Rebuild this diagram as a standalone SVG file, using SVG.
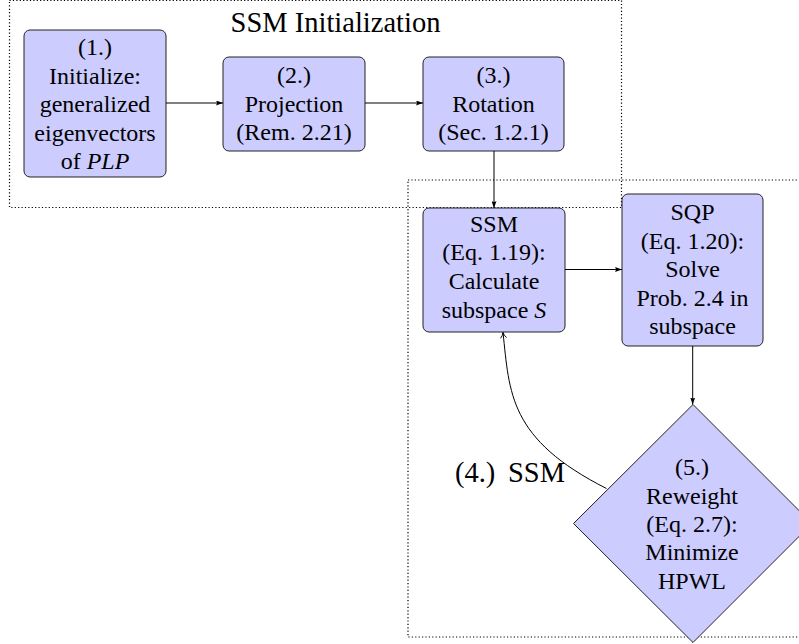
<svg xmlns="http://www.w3.org/2000/svg" width="799" height="644" viewBox="0 0 799 644">
<style>
text{font-family:"Liberation Serif",serif}
.frame{fill:none;stroke:#000;stroke-width:1.2;stroke-dasharray:1.2 2.2}
.node{fill:#ccccff;stroke:#222;stroke-width:1}
.edge{fill:none;stroke:#000;stroke-width:1}
</style>
<defs>
<marker id="ah" viewBox="0 0 7 5" refX="7" refY="2.5" markerWidth="7" markerHeight="5" markerUnits="userSpaceOnUse" orient="auto">
<path d="M0,0 L7,2.5 L0,5 L1.2,2.5 Z" fill="#000"/>
</marker>
<marker id="to" viewBox="0 0 8 8" refX="7" refY="4" markerWidth="8" markerHeight="8" markerUnits="userSpaceOnUse" orient="auto">
<path d="M1.5,1 Q4,3.3 7,4 Q4,4.7 1.5,7" fill="none" stroke="#000" stroke-width="0.9"/>
</marker>
</defs>
<g id="frames" font-family="Liberation Serif" font-size="28.5" fill="#000">
<rect class="frame" x="9.5" y="0.5" width="612" height="207"/>
<rect class="frame" x="408" y="180" width="420" height="457"/>
<text x="335.5" y="32" text-anchor="middle">SSM Initialization</text>
<text x="455" y="482">(4.)</text>
<text x="565" y="482" text-anchor="end">SSM</text>
</g>
<g font-family="Liberation Serif" font-size="24" text-anchor="middle" fill="#000">
<g id="n1">
<rect class="node" x="24" y="30" width="142" height="147" rx="6"/>
<text x="95" y="55">(1.)</text>
<text x="95" y="83.5">Initialize:</text>
<text x="95" y="112">generalized</text>
<text x="95" y="140.5">eigenvectors</text>
<text x="95" y="169">of <tspan font-style="italic">PLP</tspan></text>
</g>
<g id="n2">
<rect class="node" x="223" y="57" width="142" height="94" rx="6"/>
<text x="294" y="83">(2.)</text>
<text x="294" y="111.5">Projection</text>
<text x="294" y="140">(Rem. 2.21)</text>
</g>
<g id="n3">
<rect class="node" x="423" y="57" width="141" height="94" rx="6"/>
<text x="493.5" y="83">(3.)</text>
<text x="493.5" y="111.5">Rotation</text>
<text x="493.5" y="140">(Sec. 1.2.1)</text>
</g>
<g id="ssm">
<rect class="node" x="423" y="208" width="142" height="124" rx="6"/>
<text x="494" y="231.5">SSM</text>
<text x="494" y="260">(Eq. 1.19):</text>
<text x="494" y="289">Calculate</text>
<text x="494" y="317.5">subspace <tspan font-style="italic">S</tspan></text>
</g>
<g id="sqp">
<rect class="node" x="622" y="194" width="141" height="152" rx="6"/>
<text x="692.5" y="220">SQP</text>
<text x="692.5" y="248.5">(Eq. 1.20):</text>
<text x="692.5" y="277">Solve</text>
<text x="692.5" y="305.5">Prob. 2.4 in</text>
<text x="692.5" y="334">subspace</text>
</g>
<g id="reweight">
<polygon class="node" points="693,404.5 812,523.5 693,642.5 573.5,523.5"/>
<text x="692" y="475">(5.)</text>
<text x="692" y="503.5">Reweight</text>
<text x="692" y="531.5">(Eq. 2.7):</text>
<text x="692" y="560">Minimize</text>
<text x="692" y="588.5">HPWL</text>
</g>
</g>
<g id="connectors">
<path class="edge" d="M166,103 L223,103" marker-end="url(#ah)"/>
<path class="edge" d="M365,103 L423,103" marker-end="url(#ah)"/>
<path class="edge" d="M494,151 L494,208" marker-end="url(#ah)"/>
<path class="edge" d="M565,269.5 L622,269.5" marker-end="url(#ah)"/>
<path class="edge" d="M692.7,346 L692.7,404.5" marker-end="url(#ah)"/>
<path class="edge" d="M606.5,488.5 C508.6,439 509.6,393 503,332.5" marker-end="url(#to)"/>
</g>
</svg>
